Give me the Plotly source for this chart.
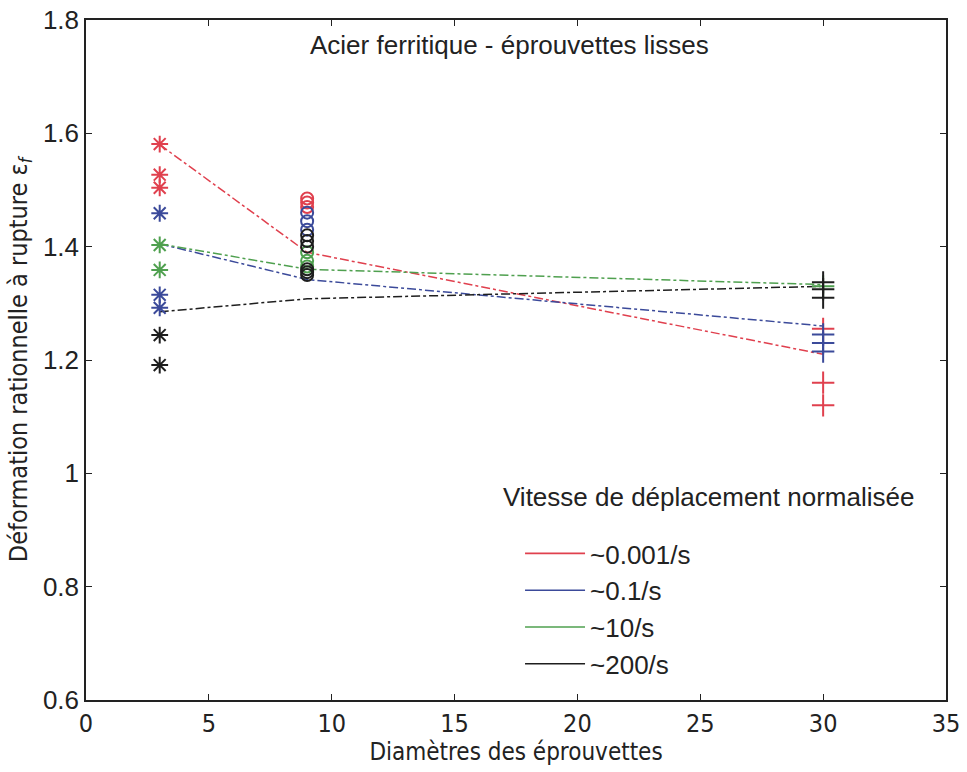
import plotly.graph_objects as go

# ---- data ----
series_names = ["~0.001/s", "~0.1/s", "~10/s", "~200/s"]
series_colors = ["#e0404e", "#3b4a9a", "#4fa04f", "#1e1e1e"]

# diameter 3 mm (asterisks)
d3_red = [1.581, 1.527, 1.504]
d3_blue = [1.459, 1.315, 1.292]
d3_green = [1.403, 1.359]
d3_black = [1.244, 1.191]

# diameter 9 mm (open circles)
d9_red = [1.485, 1.478, 1.47]
d9_blue = [1.46, 1.445, 1.43]
d9_green = [1.39, 1.375, 1.365]
d9_black = [1.42, 1.41, 1.40, 1.36, 1.355, 1.35]

# diameter 30 mm (crosses)
d30_red = [1.255, 1.16, 1.12]
d30_blue = [1.245, 1.23, 1.215]
d30_green = [1.33]
d30_black = [1.337, 1.325, 1.31]

# trend lines (values at diameters 3, 9, 30)
trend_x = [3, 9, 30]
trend_red = [1.58, 1.39, 1.21]
trend_blue = [1.405, 1.342, 1.26]
trend_green = [1.405, 1.36, 1.333]
trend_black = [1.285, 1.308, 1.33]

x_ticks = [0, 5, 10, 15, 20, 25, 30, 35]
y_ticks = [0.6, 0.8, 1.0, 1.2, 1.4, 1.6, 1.8]
y_tick_text = ["0.6", "0.8", "1", "1.2", "1.4", "1.6", "1.8"]

FONT = "Liberation Sans, Arial, sans-serif"
NARROW = "Liberation Sans Narrow, DejaVu Sans Condensed, Liberation Sans, sans-serif"

fig = go.Figure()

trends = [trend_red, trend_blue, trend_green, trend_black]
for vals, col in zip(trends, series_colors):
    fig.add_trace(go.Scatter(x=trend_x, y=vals, mode="lines",
                             line=dict(color=col, width=1.5, dash="dashdot"),
                             showlegend=False, hoverinfo="skip"))

groups = [
    (3, [d3_red, d3_blue, d3_green, d3_black], "asterisk-open", 14),
    (9, [d9_red, d9_blue, d9_green, d9_black], "circle-open", 12),
    (30, [d30_red, d30_blue, d30_green, d30_black], "cross-thin-open", 16),
]
for xd, lists, sym, size in groups:
    for vals, col in zip(lists, series_colors):
        fig.add_trace(go.Scatter(x=[xd] * len(vals), y=vals, mode="markers",
                                 marker=dict(symbol=sym, size=size, color=col,
                                             line=dict(color=col, width=2)),
                                 showlegend=False))

# legend entries (solid lines)
for i, (name, col) in enumerate(zip(series_names, series_colors)):
    fig.add_trace(go.Scatter(x=[None], y=[None], mode="lines", name=name,
                             legendgroup="g%d" % i,
                             line=dict(color=col, width=1.6)))

fig.update_layout(
    width=967, height=772,
    margin=dict(l=86, r=21, t=20, b=72),
    paper_bgcolor="white", plot_bgcolor="white",
    font=dict(family=FONT, size=20, color="#222"),
    legend=dict(x=0.5047, y=0.25, xanchor="left", yanchor="top",
                bgcolor="rgba(0,0,0,0)", borderwidth=0,
                font=dict(size=26), tracegroupgap=0, itemwidth=60),
    xaxis=dict(range=[0, 35], tickvals=x_ticks, showgrid=False, zeroline=False,
               showline=True, linecolor="#222", linewidth=1.5, mirror="ticks",
               ticks="inside", ticklen=6, tickcolor="#222", automargin=False,
               tickfont=dict(size=25, family=NARROW),
               title=dict(text="Diamètres des éprouvettes",
                          font=dict(size=24, family=NARROW), standoff=2)),
    yaxis=dict(range=[0.6, 1.8], tickvals=y_ticks, ticktext=y_tick_text,
               showgrid=False, zeroline=False,
               showline=True, linecolor="#222", linewidth=1.5, mirror="ticks",
               ticks="inside", ticklen=6, tickcolor="#222", automargin=False,
               tickfont=dict(size=26),
               title=dict(text="Déformation rationnelle à rupture ε<sub><i>f</i></sub>",
                          font=dict(size=25, family=NARROW), standoff=8)),
    annotations=[
        dict(text="Acier ferritique - éprouvettes lisses",
             x=0.493, y=0.963, xref="paper", yref="paper",
             xanchor="center", yanchor="middle", showarrow=False,
             font=dict(size=26)),
        dict(text="Vitesse de déplacement normalisée",
             x=0.4825, y=0.299, xref="paper", yref="paper",
             xanchor="left", yanchor="middle", showarrow=False,
             font=dict(size=26)),
    ],
)

fig.write_html("out.html", config={"displayModeBar": False},
               post_script="document.body.style.margin='0px';")
